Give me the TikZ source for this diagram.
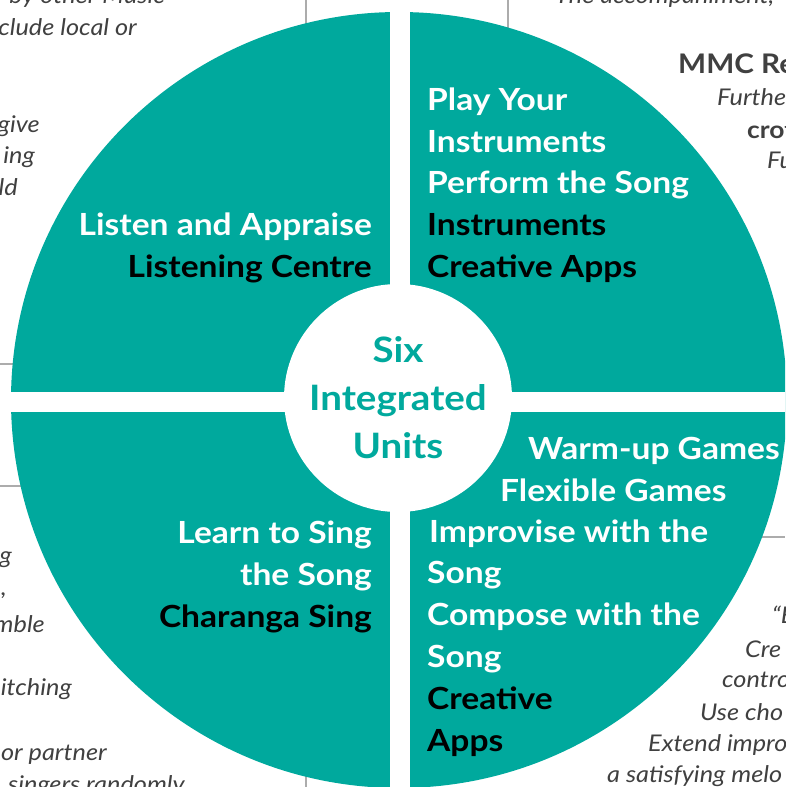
\documentclass[tikz,border=0pt]{standalone}
\usepackage{fontspec}
\setmainfont{Lato}[FakeStretch=1.1]
\definecolor{unitteal}{RGB}{0,169,157}
\definecolor{notegray}{RGB}{64,64,64}
\definecolor{rulegray}{RGB}{172,172,172}

\begin{document}
\begin{tikzpicture}[x=1pt,y=-1pt,
  unit/.style={font=\fontsize{30.5}{36}\selectfont\bfseries, inner sep=0pt},
  hub/.style={circle, fill=white, minimum size=228pt, inner sep=0pt, align=center,
    text=unitteal, font=\fontsize{35}{48}\selectfont\bfseries},
  note/.style={font=\fontsize{23}{28}\selectfont\itshape, text=notegray, inner sep=0pt},
  notehead/.style={font=\fontsize{27}{30}\selectfont\bfseries, text=notegray, inner sep=0pt}]
\useasboundingbox (0,0) rectangle (785,787);
\clip (0,0) rectangle (785,787);

% panel rules behind the wheel
\foreach \a/\b in {{306,0}/{306,787}, {508,0}/{508,40}, {0,364}/{40,364},
                   {0,486}/{40,486}, {740,537}/{785,537}}
  \draw[rulegray, line width=2.2pt] (\a) -- (\b);

% text of the panels around the wheel
\foreach \x/\y/\side/\txt [count=\i] in {
  165/3/east/by other Music, 137/35/east/clude local or,
  40/132/east/give, 35/163/east/ing, 18/195/east/ld,
  12/563/east/g, 7/595/east/{,}, 45/632/east/mble, 72/695/east/itching,
  107/760/east/or partner, 8/792/west/singers randomly,
  555/3/west/{The accompaniment,}, 717/105/west/Furthe, 767/168/west/Fu,
  772/623/west/“E, 745/657/west/Cre, 722/687/west/contro, 700/720/west/Use cho,
  648/751/west/Extend impro, 607/782/west/a satisfying melo}
  \node[note, anchor=base \side] (note\i) at (\x,\y) {\txt};
\node[notehead, anchor=base west] (mmc) at (678,73) {MMC Re};
\node[notehead, font=\fontsize{24}{28}\selectfont\bfseries, anchor=base west] (crot) at (747,138) {crot};

% the wheel: four quarters split by a white cross
\begin{scope}
  \clip (399,400) circle (388pt);
  \fill[unitteal] (0,0) rectangle (800,800);
  \fill[white] (390,0) rectangle (410,800);
  \fill[white] (0,392) rectangle (800,412);
\end{scope}
\node[hub] (hub) at (398,398) {Six\\Integrated\\Units};

% unit names, one line at a time
\foreach \x/\y/\side/\tone/\txt [count=\i] in {
  372/235/east/white/Listen and Appraise, 372/277/east/black/Listening Centre,
  427/110/west/white/Play Your, 427/152/west/white/Instruments,
  427/193/west/white/Perform the Song, 427/235/west/black/Instruments,
  427/277/west/black/Creative Apps,
  372/543/east/white/Learn to Sing, 372/585/east/white/the Song,
  372/627/east/black/Charanga Sing,
  528/459/west/white/Warm-up Games, 500/501/west/white/Flexible Games,
  429/542/west/white/Improvise with the, 427/583/west/white/Song,
  427/625/west/white/Compose with the, 427/667/west/white/Song,
  427/709/west/black/Creative, 427/751/west/black/Apps}
  \node[unit, text=\tone, anchor=base \side] (unit\i) at (\x,\y) {\txt};
\end{tikzpicture}
\end{document}
